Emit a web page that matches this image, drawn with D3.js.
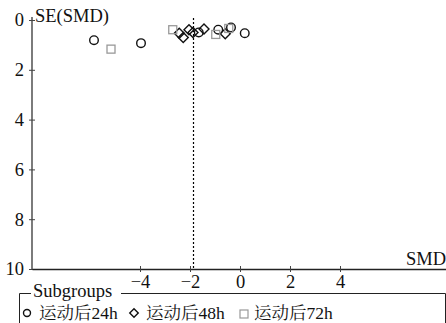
<!DOCTYPE html>
<html>
<head>
<meta charset="utf-8">
<script src="https://cdn.jsdelivr.net/npm/d3@7"></script>
<style>
  body { margin: 0; background: #fff; }
  svg { display: block; }
</style>
</head>
<body>
<div id="chart"></div>
<script>
// funnel plot data (SMD, SE(SMD))
const smd24 = [-5.84, -3.96, -1.65, -0.87, -0.36, 0.19];
const se24 = [0.81, 0.93, 0.50, 0.39, 0.30, 0.53];
const smd48 = [-2.43, -2.27, -2.04, -1.88, -1.44, -0.59];
const se48 = [0.53, 0.70, 0.39, 0.50, 0.36, 0.55];
const smd72 = [-5.16, -2.69, -0.97, -0.45];
const se72 = [1.17, 0.39, 0.58, 0.34];
const xTicks = [-4, -2, 0, 2, 4];
const yTicks = [0, 2, 4, 6, 8, 10];
const pooledSmd = -1.86;
const groupPrefix = "运动后";
const groupHours = ["24h", "48h", "72h"];

const width = 446, height = 323;
const LATIN = "Liberation Serif";
const CJK = "Noto Serif CJK SC";

const svg = d3.select("#chart").append("svg")
  .attr("width", width).attr("height", height);

const x = d3.scaleLinear().domain([-8.32, 8.24]).range([32, 446]);
const y = d3.scaleLinear().domain([0, 10]).range([20, 269]);

// dotted line at pooled estimate
svg.append("line")
  .attr("x1", x(pooledSmd)).attr("x2", x(pooledSmd))
  .attr("y1", y(0) - 2).attr("y2", y(10))
  .attr("stroke", "#000").attr("stroke-width", 1.2)
  .attr("stroke-dasharray", "2,2");

// y axis
const yAxis = svg.append("g")
  .attr("transform", `translate(${x.range()[0]},0)`)
  .call(d3.axisLeft(y).tickValues(yTicks).tickSizeOuter(0).tickSizeInner(3).tickPadding(5));
yAxis.select(".domain").attr("stroke", "#444").attr("stroke-width", 1.4)
  .attr("d", `M0,${y(0) - 3}V${y(10)}`);
yAxis.selectAll(".tick line").attr("x1", 3).attr("x2", -3).attr("stroke", "#444");
yAxis.selectAll(".tick text").attr("font-size", 18.5).attr("fill", "#111");

// x axis
const xAxis = svg.append("g")
  .attr("transform", `translate(0,${y(10)})`)
  .call(d3.axisBottom(x).tickValues(xTicks).tickSizeOuter(0).tickSizeInner(3).tickPadding(3)
    .tickFormat(d => d < 0 ? "\u2212" + Math.abs(d) : d));
xAxis.select(".domain").attr("stroke", "#222").attr("stroke-width", 1.4);
xAxis.selectAll(".tick line").attr("y1", -3).attr("y2", 3).attr("stroke", "#444");
xAxis.selectAll(".tick text").attr("font-size", 18.5).attr("fill", "#111");

// axis titles
svg.append("text").attr("x", 35).attr("y", 22).attr("font-size", 18.5).attr("fill", "#111")
  .text("SE(SMD)");
svg.append("text").attr("x", 446).attr("y", 265).attr("text-anchor", "end")
  .attr("font-size", 18.5).attr("fill", "#111").text("SMD");

// markers
svg.append("g").selectAll("circle").data(d3.zip(smd24, se24)).join("circle")
  .attr("cx", d => x(d[0])).attr("cy", d => y(d[1])).attr("r", 4.3)
  .attr("fill", "none").attr("stroke", "#111").attr("stroke-width", 1.4);

const diamond = d3.symbol().type(d3.symbolSquare).size(50);
svg.append("g").selectAll("path").data(d3.zip(smd48, se48)).join("path")
  .attr("d", diamond)
  .attr("transform", d => `translate(${x(d[0])},${y(d[1])}) rotate(45)`)
  .attr("fill", "none").attr("stroke", "#111").attr("stroke-width", 1.4);

svg.append("g").selectAll("rect").data(d3.zip(smd72, se72)).join("rect")
  .attr("x", d => x(d[0]) - 4).attr("y", d => y(d[1]) - 4)
  .attr("width", 8).attr("height", 8)
  .attr("fill", "none").attr("stroke", "#999").attr("stroke-width", 1.3);

// legend
const legend = svg.append("g");
legend.append("path")
  .attr("d", "M19.5,323V293.5H445.5V323")
  .attr("fill", "none").attr("stroke", "#222").attr("stroke-width", 1);
legend.append("rect").attr("x", 31).attr("y", 284).attr("width", 90).attr("height", 16).attr("fill", "#fff");
legend.append("text").attr("x", 33).attr("y", 297).attr("font-size", 18.5).attr("fill", "#111")
  .text("Subgroups");

const legendY = 313;
legend.append("circle").attr("cx", 27).attr("cy", legendY).attr("r", 3.5)
  .attr("fill", "none").attr("stroke", "#111").attr("stroke-width", 1.4);
legend.append("path").attr("d", d3.symbol().type(d3.symbolSquare).size(36))
  .attr("transform", `translate(134,${legendY}) rotate(45)`)
  .attr("fill", "none").attr("stroke", "#111").attr("stroke-width", 1.4);
legend.append("rect").attr("x", 240).attr("y", legendY - 3).attr("width", 8).attr("height", 8)
  .attr("fill", "none").attr("stroke", "#999").attr("stroke-width", 1.2);

const legendX = [39, 146, 254];
groupHours.forEach((h, i) => {
  const t = legend.append("text").attr("x", legendX[i]).attr("y", legendY + 6)
    .attr("font-size", 17.5).attr("fill", "#111");
  t.append("tspan").attr("class", "cjk").text(groupPrefix);
  t.append("tspan").text(h);
});

// set fonts on every text node directly
svg.selectAll("text").attr("font-family", LATIN);
svg.selectAll("tspan").attr("font-family", LATIN);
svg.selectAll("tspan.cjk").attr("font-family", CJK);
</script>
</body>
</html>
